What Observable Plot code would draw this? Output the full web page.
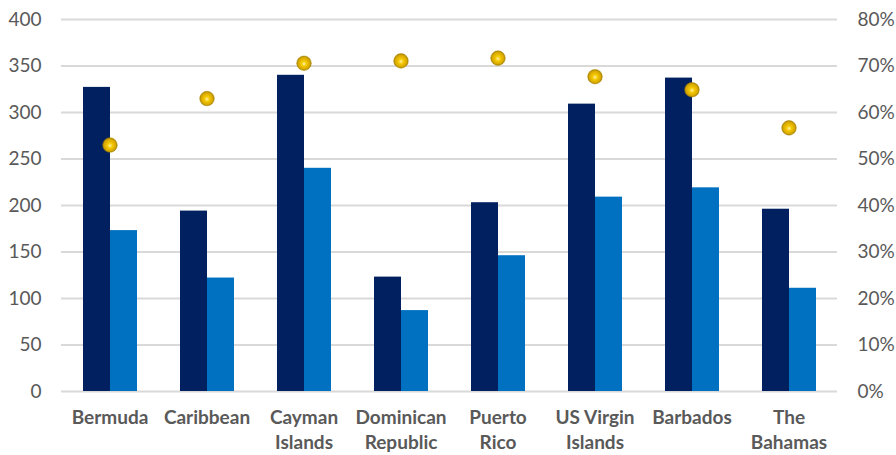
<!DOCTYPE html>
<html>
<head>
<meta charset="utf-8">
<script src="https://cdn.jsdelivr.net/npm/d3@7"></script>
<script src="https://cdn.jsdelivr.net/npm/@observablehq/plot@0.6"></script>
<style>
  html, body { margin: 0; padding: 0; background: #fff; }
  #chart svg { display: block; font-family: Lato, "Open Sans", sans-serif; }
  g[aria-label="fx-axis tick label"] text { font-weight: bold; }
</style>
</head>
<body>
<div id="chart"></div>
<script>
// Data
const categories = ["Bermuda", "Caribbean", "Cayman Islands", "Dominican Republic", "Puerto Rico", "US Virgin Islands", "Barbados", "The Bahamas"];
const categoryLabels = ["Bermuda", "Caribbean", "Cayman\nIslands", "Dominican\nRepublic", "Puerto\nRico", "US Virgin\nIslands", "Barbados", "The\nBahamas"];
const seriesNames = ["Series A", "Series B"];
const seriesA = [327, 194, 340, 123, 203, 309, 337, 196];
const seriesB = [173, 122, 240, 87, 146, 209, 219, 111];
const percentValues = [53.0, 63.0, 70.6, 71.1, 71.7, 67.7, 64.9, 56.7];
const leftTicks = [0, 50, 100, 150, 200, 250, 300, 350, 400];
const rightTickLabels = ["0%", "10%", "20%", "30%", "40%", "50%", "60%", "70%", "80%"];

const barRows = [];
categories.forEach((c, i) => {
  barRows.push({cat: c, series: seriesNames[0], value: seriesA[i]});
  barRows.push({cat: c, series: seriesNames[1], value: seriesB[i]});
});
const pctRows = categories.map((c, i) => ({cat: c, pct: percentValues[i]}));
const pctToLeft = 400 / 80; // right axis 0–80% aligned with left axis 0–400
const labelOf = new Map(categories.map((c, i) => [c, categoryLabels[i]]));

const chart = Plot.plot({
  width: 896,
  height: 455,
  marginLeft: 60,
  marginRight: 58,
  marginTop: 19,
  marginBottom: 64,
  style: {fontFamily: "Lato, 'Open Sans', sans-serif", background: "#fff"},
  fx: {domain: categories, paddingInner: 0, paddingOuter: 0, axis: null, label: null},
  x: {domain: seriesNames, paddingInner: 0, paddingOuter: 0.755, axis: null},
  y: {domain: [0, 400], axis: null},
  color: {domain: seriesNames, range: ["#002060", "#0070c0"]},
  marks: [
    Plot.gridY(leftTicks, {stroke: "#d9d9d9", strokeOpacity: 1, strokeWidth: 2}),
    Plot.barY(barRows, {fx: "cat", x: "series", y: "value", fill: "series", inset: 0}),
    Plot.dot(pctRows, {fx: "cat", y: d => d.pct * pctToLeft, r: 7.3, fill: "gold", stroke: "#b08a00", strokeWidth: 0.5}),
    Plot.axisY(leftTicks, {anchor: "left", tickSize: 0, tickPadding: 20, fontSize: 19, fill: "#595959", label: null}),
    Plot.axisY(leftTicks, {anchor: "right", tickSize: 0, tickPadding: 20, fontSize: 19, fill: "#595959", label: null, textAnchor: "start",
      tickFormat: d => rightTickLabels[leftTicks.indexOf(d)]}),
    Plot.axisFx({anchor: "bottom", tickSize: 0, tickPadding: 15, fontSize: 19, fontWeight: "bold", fill: "#595959", label: null,
      lineHeight: 1.3, tickFormat: d => labelOf.get(d)})
  ]
});

// Gold sphere gradient for the percentage markers
const svg = d3.select(chart);
const defs = svg.insert("defs", ":first-child");
const grad = defs.append("radialGradient").attr("id", "gold").attr("cx", "50%").attr("cy", "50%").attr("r", "50%").attr("fx", "50%").attr("fy", "55%");
grad.append("stop").attr("offset", "0%").attr("stop-color", "#fff2a8");
grad.append("stop").attr("offset", "35%").attr("stop-color", "#f5c800");
grad.append("stop").attr("offset", "80%").attr("stop-color", "#d6a800");
grad.append("stop").attr("offset", "100%").attr("stop-color", "#a07c00");
svg.selectAll("circle").attr("fill", "url(#gold)");

document.getElementById("chart").appendChild(chart);
</script>
</body>
</html>
